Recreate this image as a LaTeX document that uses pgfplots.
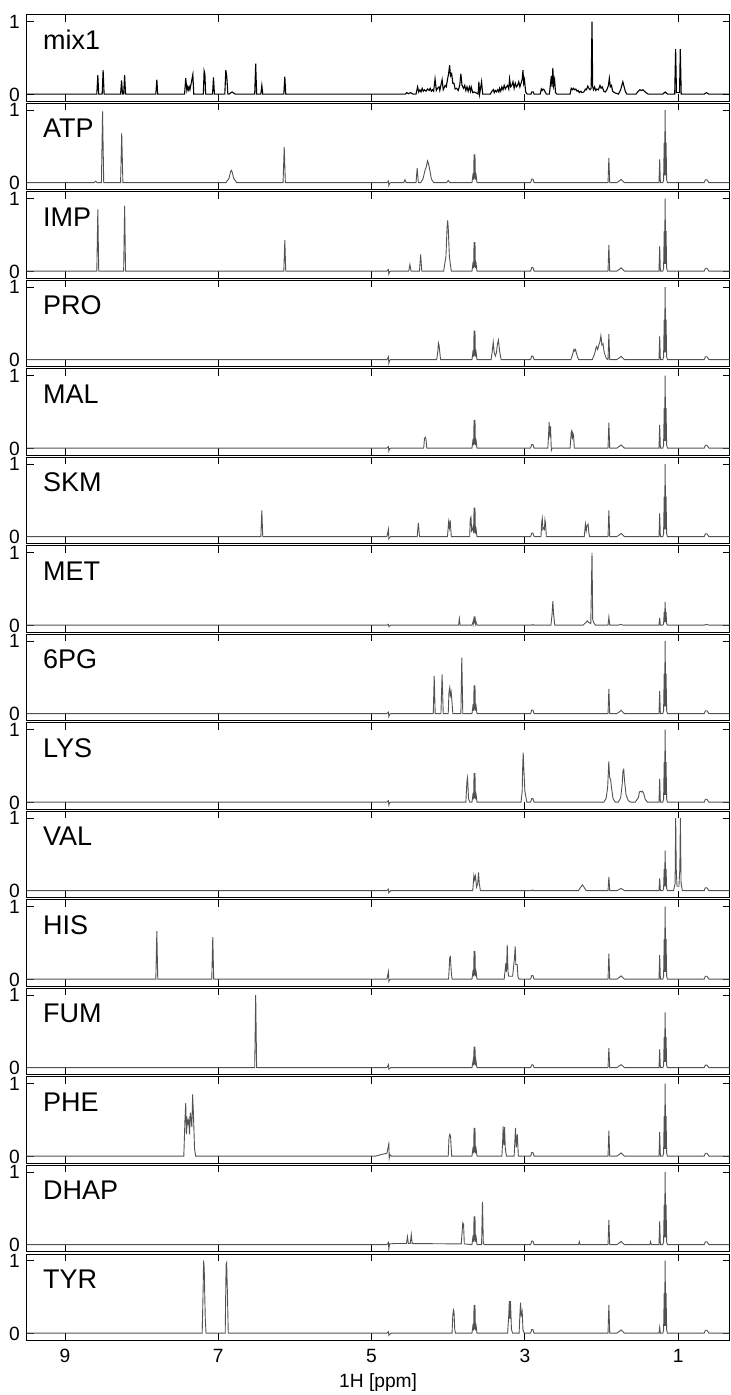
\documentclass[border=0pt]{standalone}
\usepackage{fontspec}
\setmainfont{Liberation Sans}
\usepackage{pgfplots}
\pgfplotsset{compat=1.18}
\tikzset{lab/.style={anchor=base west, inner sep=0pt, font=\fontsize{13.5}{14}\selectfont}}
\newcommand{\plab}[1]{\node[lab] at (rel axis cs:0.0228,0.606) {#1};}
\pgfplotsset{
 panel/.style={
  scale only axis, width=351.4pt, height=43.2pt, anchor=south west,
  x dir=reverse, xmin=0.33, xmax=9.5, ymin=-0.1, ymax=1.09,
  xtick={1,3,5,7,9}, ytick={0,1},
  tick align=inside, xtick pos=both, ytick pos=both, yticklabel pos=left,
  major tick length=3.5pt,
  axis line style={line width=0.5pt},
  every tick/.style={black, line width=0.5pt},
  /pgf/number format/assume math mode=true,
  ticklabel style={font=\fontsize{9.6}{10}\selectfont},
  yticklabel style={inner xsep=0pt, inner ysep=0pt, text height=6.9pt, text depth=0pt, xshift=-3.3pt},
  xticklabel style={inner ysep=0pt, yshift=-4.3pt},
  clip mode=individual,
 },
 nox/.style={xticklabels={}},
 spec/.style={color=black!68, line width=0.45pt, mark=none},
}
\begin{document}
\begin{tikzpicture}
\useasboundingbox (0,0) rectangle (365pt,697.5pt);
% ---------- mix1
\begin{axis}[panel, nox, at={(13.35pt,646.8pt)}]
\addplot[black, line width=0.55pt] coordinates {
(9.5,0) (8.585,0) (8.572,0.26) (8.56,0) (8.515,0) (8.503,0.33) (8.49,0)
(8.275,0) (8.262,0.19) (8.25,0) (8.235,0) (8.222,0.26) (8.21,0)
(7.815,0) (7.802,0.20) (7.79,0)
(7.44,0) (7.425,0.22) (7.41,0.05) (7.40,0.1) (7.39,0.06) (7.38,0.1) (7.37,0.06) (7.332,0.27) (7.32,0)
(7.195,0) (7.185,0.32) (7.175,0.28) (7.165,0)
(7.075,0) (7.063,0.23) (7.05,0)
(6.915,0) (6.902,0.33) (6.89,0.25) (6.875,0)
(6.86,0) (6.82,0.03) (6.78,0)
(6.525,0) (6.512,0.42) (6.50,0)
(6.445,0) (6.432,0.12) (6.42,0)
(6.145,0) (6.132,0.24) (6.12,0)
(4.56,0) (4.54,0.02) (4.52,0.005) (4.49,0.02) (4.46,0)
(4.42,0) (4.40,0.1) (4.385,0.03) (4.37,0.06) (4.355,0.03) (4.34,0.08) (4.325,0.04) (4.31,0.06) (4.29,0.04) (4.27,0.07) (4.25,0.05) (4.235,0.08) (4.22,0.04) (4.205,0.06) (4.19,0.04)
(4.172,0.21) (4.155,0.05) (4.14,0.08) (4.12,0.1) (4.11,0.05) (4.08,0.2) (4.065,0.06) (4.04,0.12) (4.025,0.1) (4.01,0.2) (3.995,0.28) (3.982,0.4) (3.97,0.25) (3.955,0.28) (3.94,0.15) (3.925,0.15) (3.91,0.07) (3.89,0.08) (3.87,0.05) (3.85,0.12) (3.835,0.28) (3.82,0.12) (3.80,0.08) (3.785,0.12) (3.77,0.05) (3.755,0.1) (3.74,0.04) (3.725,0.1) (3.71,0.04) (3.70,0.1) (3.68,0.02) (3.66,0.03) (3.64,0.02) (3.61,0)
(3.60,0.17) (3.59,0) (3.565,0.17) (3.55,0)
(3.45,0) (3.43,0.04) (3.41,0.06) (3.40,0.02) (3.385,0.05) (3.37,0.03) (3.355,0.06) (3.34,0.03) (3.33,0.08) (3.315,0.04) (3.30,0.1) (3.285,0.06) (3.27,0.12) (3.255,0.07) (3.24,0.1) (3.225,0.12) (3.21,0.07) (3.20,0.21) (3.185,0.1) (3.17,0.12) (3.155,0.17) (3.14,0.08) (3.125,0.15) (3.11,0.1) (3.095,0.12) (3.08,0.17) (3.065,0.1) (3.05,0.15) (3.035,0.2) (3.025,0.33) (3.015,0.15) (3.005,0.2) (2.99,0.03) (2.97,0)
(2.92,0) (2.91,0.03) (2.89,0.03) (2.88,0)
(2.80,0) (2.785,0.07) (2.775,0.05) (2.765,0.07) (2.75,0.06) (2.735,0.03) (2.72,0)
(2.68,0) (2.665,0.15) (2.655,0.25) (2.645,0.1) (2.635,0.36) (2.625,0.12) (2.612,0.2) (2.60,0.02) (2.58,0)
(2.41,0) (2.395,0.08) (2.38,0.06) (2.365,0.08) (2.35,0.06) (2.335,0.07) (2.32,0.04) (2.305,0.05) (2.29,0.02) (2.27,0.04) (2.255,0.02) (2.23,0.03) (2.21,0.07) (2.195,0.06) (2.18,0.11) (2.165,0.08) (2.15,0.06) (2.135,0.08) (2.124,1.0) (2.115,0.1) (2.105,0.06) (2.09,0.1) (2.075,0.05) (2.06,0.07) (2.04,0.06) (2.02,0.12) (2.005,0.08) (1.99,0.1) (1.97,0.04) (1.95,0.03) (1.93,0.06) (1.91,0.12) (1.898,0.22) (1.885,0.1) (1.87,0.12) (1.855,0.04) (1.83,0.02)
(1.78,0) (1.75,0.06) (1.735,0.12) (1.722,0.17) (1.71,0.12) (1.69,0.04) (1.67,0)
(1.55,0) (1.52,0.04) (1.50,0.06) (1.48,0.05) (1.46,0.06) (1.44,0.04) (1.42,0.02) (1.39,0)
(1.20,0) (1.17,0.03) (1.14,0)
(1.045,0) (1.033,0.62) (1.022,0.02) (0.982,0.02) (0.972,0.62) (0.96,0)
(0.66,0) (0.63,0.02) (0.60,0) (0.33,0)
};
\plab{mix1}
\end{axis}
% ---------- ATP
\begin{axis}[panel, nox, at={(13.35pt,602.55pt)}]
\addplot[spec] coordinates {
(9.5,0) (8.62,0) (8.60,0.02) (8.58,0) (8.525,0) (8.51,0.98) (8.495,0) (8.275,0) (8.26,0.68) (8.245,0)
(6.90,0) (6.86,0.06) (6.84,0.15) (6.83,0.17) (6.82,0.15) (6.80,0.06) (6.76,0)
(6.155,0) (6.14,0.49) (6.125,0)
(4.80,0) (4.78,0.02) (4.775,-0.04) (4.765,-0.01) (4.75,0)
(4.58,0) (4.565,0.04) (4.55,0)
(4.42,0) (4.405,0.2) (4.39,0)
(4.36,0) (4.33,0.05) (4.30,0.18) (4.285,0.22) (4.27,0.3) (4.26,0.27) (4.245,0.2) (4.22,0.05) (4.19,0)
(4.02,0) (4.0,0.03) (3.98,0)
(3.69,0) (3.675,0.13) (3.669,0.04) (3.663,0.39) (3.657,0.06) (3.651,0.39) (3.645,0.04) (3.639,0.13) (3.625,0)
(2.925,0) (2.91,0.05) (2.895,0.05) (2.88,0)
(1.915,0) (1.904,0.34) (1.893,0)
(1.80,0) (1.76,0.03) (1.745,0.045) (1.73,0.03) (1.70,0)
(1.25,0) (1.241,0.32) (1.232,0)
(1.20,0) (1.19,0.04) (1.182,0.55) (1.177,0.1) (1.170,1.0) (1.163,0.1) (1.158,0.55) (1.15,0.04) (1.14,0)
(0.66,0) (0.645,0.04) (0.625,0.04) (0.60,0) (0.33,0)
};
\plab{ATP}
\end{axis}
% ---------- IMP
\begin{axis}[panel, nox, at={(13.35pt,558.3pt)}]
\addplot[spec] coordinates {
(9.5,0) (8.585,0) (8.572,0.85) (8.56,0) (8.235,0) (8.222,0.9) (8.21,0)
(6.145,0) (6.132,0.43) (6.12,0)
(4.80,0) (4.78,0.02) (4.775,-0.04) (4.765,-0.01) (4.75,0)
(4.515,0) (4.50,0.09) (4.485,0) (4.375,0) (4.36,0.23) (4.345,0)
(4.06,0) (4.03,0.2) (4.015,0.6) (4.008,0.7) (4.0,0.6) (3.985,0.2) (3.96,0)
(3.69,0) (3.675,0.13) (3.669,0.04) (3.663,0.40) (3.657,0.06) (3.651,0.40) (3.645,0.04) (3.639,0.13) (3.625,0)
(2.925,0) (2.91,0.05) (2.895,0.05) (2.88,0)
(1.915,0) (1.904,0.36) (1.893,0)
(1.80,0) (1.76,0.03) (1.745,0.045) (1.73,0.03) (1.70,0)
(1.25,0) (1.241,0.34) (1.232,0)
(1.20,0) (1.19,0.04) (1.182,0.55) (1.177,0.1) (1.170,1.0) (1.163,0.1) (1.158,0.55) (1.15,0.04) (1.14,0)
(0.66,0) (0.645,0.04) (0.625,0.04) (0.60,0) (0.33,0)
};
\plab{IMP}
\end{axis}
% ---------- PRO
\begin{axis}[panel, nox, at={(13.35pt,514.05pt)}]
\addplot[spec] coordinates {
(9.5,0) (4.80,0) (4.78,0.04) (4.775,-0.05) (4.765,-0.01) (4.75,0)
(4.15,0) (4.135,0.12) (4.128,0.23) (4.12,0.2) (4.112,0.12) (4.10,0)
(3.69,0) (3.675,0.13) (3.669,0.04) (3.663,0.40) (3.657,0.06) (3.651,0.40) (3.645,0.04) (3.639,0.13) (3.625,0)
(3.44,0) (3.425,0.12) (3.413,0.24) (3.40,0.1) (3.385,0.05) (3.37,0.1) (3.36,0.2) (3.345,0.27) (3.33,0.12) (3.31,0)
(2.925,0) (2.91,0.05) (2.895,0.05) (2.88,0)
(2.40,0) (2.375,0.08) (2.36,0.14) (2.35,0.12) (2.34,0.14) (2.32,0.06) (2.30,0)
(2.12,0) (2.09,0.08) (2.075,0.15) (2.065,0.18) (2.05,0.14) (2.035,0.2) (2.02,0.25) (2.008,0.33) (1.995,0.2) (1.98,0.22) (1.965,0.1) (1.94,0.02) (1.92,0)
(1.915,0) (1.904,0.35) (1.893,0)
(1.80,0) (1.76,0.03) (1.745,0.045) (1.73,0.03) (1.70,0)
(1.25,0) (1.241,0.32) (1.232,0)
(1.20,0) (1.19,0.04) (1.182,0.55) (1.177,0.1) (1.170,1.0) (1.163,0.1) (1.158,0.55) (1.15,0.04) (1.14,0)
(0.66,0) (0.645,0.04) (0.625,0.04) (0.60,0) (0.33,0)
};
\plab{PRO}
\end{axis}
% ---------- MAL
\begin{axis}[panel, nox, at={(13.35pt,469.8pt)}]
\addplot[spec] coordinates {
(9.5,0) (4.80,0) (4.78,0.02) (4.775,-0.04) (4.765,-0.01) (4.75,0)
(4.32,0) (4.31,0.13) (4.30,0.15) (4.29,0.12) (4.28,0)
(3.69,0) (3.675,0.13) (3.669,0.04) (3.663,0.39) (3.657,0.06) (3.651,0.39) (3.645,0.04) (3.639,0.13) (3.625,0)
(2.925,0) (2.91,0.05) (2.895,0.05) (2.88,0)
(2.70,0) (2.69,0.2) (2.683,0.36) (2.675,0.15) (2.665,0.3) (2.655,-0.03) (2.645,0)
(2.41,0) (2.395,0.22) (2.388,0.24) (2.38,0.12) (2.372,0.2) (2.365,0.18) (2.355,0)
(1.915,0) (1.904,0.35) (1.893,0)
(1.80,0) (1.76,0.03) (1.745,0.045) (1.73,0.03) (1.70,0)
(1.25,0) (1.241,0.32) (1.232,0)
(1.20,0) (1.19,0.04) (1.182,0.55) (1.177,0.1) (1.170,1.0) (1.163,0.1) (1.158,0.55) (1.15,0.04) (1.14,0)
(0.66,0) (0.645,0.04) (0.625,0.04) (0.60,0) (0.33,0)
};
\plab{MAL}
\end{axis}
% ---------- SKM
\begin{axis}[panel, nox, at={(13.35pt,425.55pt)}]
\addplot[spec] coordinates {
(9.5,0) (6.445,0) (6.432,0.36) (6.42,0)
(4.80,0) (4.78,0.1) (4.775,-0.03) (4.765,-0.01) (4.75,0)
(4.405,0) (4.39,0.19) (4.375,0)
(4.01,0) (3.995,0.2) (3.985,0.12) (3.975,0.23) (3.96,0)
(3.72,0) (3.712,0.25) (3.703,0.27) (3.695,0.08) (3.685,0.1) (3.675,0.14) (3.669,0.05) (3.663,0.40) (3.657,0.06) (3.651,0.40) (3.645,0.04) (3.639,0.13) (3.625,0)
(2.925,0) (2.91,0.05) (2.895,0.05) (2.88,0)
(2.79,0) (2.78,0.2) (2.773,0.25) (2.765,0.1) (2.755,0.12) (2.745,0.1) (2.738,0.23) (2.73,0.18) (2.72,0)
(2.225,0) (2.21,0.17) (2.20,0.08) (2.19,0.15) (2.175,0.17) (2.165,0.05) (2.155,0)
(1.915,0) (1.904,0.36) (1.893,0)
(1.80,0) (1.76,0.03) (1.745,0.045) (1.73,0.03) (1.70,0)
(1.25,0) (1.241,0.32) (1.232,0)
(1.20,0) (1.19,0.04) (1.182,0.55) (1.177,0.1) (1.170,1.0) (1.163,0.1) (1.158,0.55) (1.15,0.04) (1.14,0)
(0.66,0) (0.645,0.04) (0.625,0.04) (0.60,0) (0.33,0)
};
\plab{SKM}
\end{axis}
% ---------- MET
\begin{axis}[panel, nox, at={(13.35pt,381.3pt)}]
\addplot[spec] coordinates {
(9.5,0) (4.80,0) (4.78,0.01) (4.775,-0.02) (4.75,0)
(3.865,0) (3.855,0.09) (3.845,0)
(3.69,0) (3.675,0.05) (3.669,0.02) (3.663,0.12) (3.657,0.03) (3.651,0.12) (3.645,0.02) (3.639,0.05) (3.625,0)
(2.91,0) (2.90,0.01) (2.89,0)
(2.66,0) (2.645,0.15) (2.635,0.33) (2.625,0.15) (2.61,0)
(2.24,0) (2.20,0.04) (2.185,0.06) (2.17,0.04) (2.14,0.02) (2.124,1.0) (2.115,0.08) (2.10,0.03) (2.08,0)
(1.915,0) (1.904,0.11) (1.893,0)
(1.78,0) (1.75,0.01) (1.72,0)
(1.25,0) (1.241,0.1) (1.232,0)
(1.20,0) (1.19,0.02) (1.182,0.18) (1.177,0.04) (1.170,0.32) (1.163,0.04) (1.158,0.18) (1.15,0.02) (1.14,0)
(0.66,0) (0.63,0.01) (0.60,0) (0.33,0)
};
\plab{MET}
\end{axis}
% ---------- 6PG
\begin{axis}[panel, nox, at={(13.35pt,337.05pt)}]
\addplot[spec] coordinates {
(9.5,0) (4.80,0) (4.78,0.02) (4.775,-0.04) (4.765,-0.01) (4.75,0)
(4.195,0) (4.183,0.52) (4.17,0)
(4.095,0) (4.08,0.54) (4.065,0)
(4.0,0) (3.99,0.3) (3.98,0.36) (3.972,0.25) (3.962,0.3) (3.95,0.15) (3.94,0)
(3.835,0) (3.823,0.77) (3.81,0)
(3.69,0) (3.675,0.13) (3.669,0.04) (3.663,0.39) (3.657,0.06) (3.651,0.39) (3.645,0.04) (3.639,0.13) (3.625,0)
(2.925,0) (2.91,0.05) (2.895,0.05) (2.88,0)
(1.915,0) (1.904,0.34) (1.893,0)
(1.80,0) (1.76,0.03) (1.745,0.045) (1.73,0.03) (1.70,0)
(1.25,0) (1.241,0.31) (1.232,0)
(1.20,0) (1.19,0.04) (1.182,0.55) (1.177,0.1) (1.170,1.0) (1.163,0.1) (1.158,0.55) (1.15,0.04) (1.14,0)
(0.66,0) (0.645,0.04) (0.625,0.04) (0.60,0) (0.33,0)
};
\plab{6PG}
\end{axis}
% ---------- LYS
\begin{axis}[panel, nox, at={(13.35pt,292.8pt)}]
\addplot[spec] coordinates {
(9.5,0) (4.80,0) (4.78,0.02) (4.775,-0.04) (4.765,-0.01) (4.75,0)
(3.77,0) (3.755,0.3) (3.748,0.34) (3.735,0.05) (3.72,0)
(3.69,0) (3.675,0.13) (3.669,0.04) (3.663,0.40) (3.657,0.06) (3.651,0.40) (3.645,0.04) (3.639,0.13) (3.625,0)
(3.05,0) (3.035,0.15) (3.028,0.5) (3.022,0.68) (3.015,0.5) (3.0,0.15) (2.975,0)
(2.925,0) (2.91,0.05) (2.895,0.05) (2.88,0)
(1.97,0) (1.94,0.05) (1.92,0.2) (1.905,0.56) (1.895,0.35) (1.88,0.3) (1.87,0.2) (1.85,0.05) (1.82,0)
(1.78,0) (1.75,0.06) (1.73,0.25) (1.72,0.43) (1.71,0.45) (1.70,0.3) (1.68,0.1) (1.65,0.02) (1.62,0)
(1.56,0) (1.52,0.06) (1.505,0.14) (1.49,0.15) (1.475,0.14) (1.465,0.15) (1.45,0.12) (1.43,0.04) (1.40,0)
(1.25,0) (1.241,0.32) (1.232,0)
(1.20,0) (1.19,0.04) (1.182,0.55) (1.177,0.1) (1.170,1.0) (1.163,0.1) (1.158,0.55) (1.15,0.04) (1.14,0)
(0.66,0) (0.645,0.04) (0.625,0.04) (0.60,0) (0.33,0)
};
\plab{LYS}
\end{axis}
% ---------- VAL
\begin{axis}[panel, nox, at={(13.35pt,248.55pt)}]
\addplot[spec] coordinates {
(9.5,0) (4.80,0) (4.78,0.02) (4.775,-0.03) (4.75,0)
(3.68,0) (3.665,0.21) (3.655,0.15) (3.645,0.2) (3.63,0.05) (3.615,0.1) (3.605,0.25) (3.595,0.1) (3.58,0)
(2.91,0) (2.90,0.01) (2.89,0)
(2.30,0) (2.27,0.05) (2.25,0.08) (2.23,0.05) (2.20,0)
(1.915,0) (1.904,0.19) (1.893,0)
(1.80,0) (1.76,0.02) (1.745,0.03) (1.73,0.02) (1.70,0)
(1.25,0) (1.241,0.17) (1.232,0)
(1.20,0) (1.19,0.03) (1.182,0.3) (1.177,0.06) (1.170,0.55) (1.163,0.06) (1.158,0.3) (1.15,0.03) (1.14,0)
(1.06,0) (1.04,0.1) (1.032,1.0) (1.025,0.3) (1.015,0.06) (0.99,0.06) (0.978,0.3) (0.971,1.0) (0.962,0.1) (0.945,0)
(0.66,0) (0.645,0.04) (0.625,0.04) (0.60,0) (0.33,0)
};
\plab{VAL}
\end{axis}
% ---------- HIS
\begin{axis}[panel, nox, at={(13.35pt,204.3pt)}]
\addplot[spec] coordinates {
(9.5,0) (7.815,0) (7.802,0.66) (7.79,0) (7.085,0) (7.072,0.58) (7.06,0)
(4.80,0) (4.78,0.1) (4.775,-0.03) (4.765,-0.01) (4.75,0)
(3.995,0) (3.98,0.3) (3.972,0.31) (3.96,0.1) (3.95,0)
(3.69,0) (3.675,0.13) (3.669,0.04) (3.663,0.39) (3.657,0.06) (3.651,0.39) (3.645,0.04) (3.639,0.13) (3.625,0)
(3.27,0) (3.248,0.22) (3.24,0.1) (3.23,0.47) (3.22,0.1) (3.21,0.04) (3.16,0.04) (3.135,0.3) (3.126,0.45) (3.118,0.2) (3.10,0.2) (3.09,0.03) (3.075,0)
(2.925,0) (2.91,0.05) (2.895,0.05) (2.88,0)
(1.915,0) (1.904,0.35) (1.893,0)
(1.80,0) (1.76,0.03) (1.745,0.045) (1.73,0.03) (1.70,0)
(1.25,0) (1.241,0.33) (1.232,0)
(1.20,0) (1.19,0.04) (1.182,0.55) (1.177,0.1) (1.170,1.0) (1.163,0.1) (1.158,0.55) (1.15,0.04) (1.14,0)
(0.66,0) (0.645,0.04) (0.625,0.04) (0.60,0) (0.33,0)
};
\plab{HIS}
\end{axis}
% ---------- FUM
\begin{axis}[panel, nox, at={(13.35pt,160.05pt)}]
\addplot[spec] coordinates {
(9.5,0) (6.525,0) (6.512,1.0) (6.50,0)
(4.80,0) (4.78,0.04) (4.775,-0.02) (4.75,0)
(3.69,0) (3.675,0.1) (3.669,0.03) (3.663,0.29) (3.657,0.05) (3.651,0.29) (3.645,0.03) (3.639,0.1) (3.625,0)
(2.925,0) (2.91,0.04) (2.895,0.04) (2.88,0)
(1.915,0) (1.904,0.27) (1.893,0)
(1.80,0) (1.76,0.03) (1.745,0.04) (1.73,0.03) (1.70,0)
(1.25,0) (1.241,0.25) (1.232,0)
(1.20,0) (1.19,0.03) (1.182,0.42) (1.177,0.08) (1.170,0.76) (1.163,0.08) (1.158,0.42) (1.15,0.03) (1.14,0)
(0.66,0) (0.645,0.035) (0.625,0.035) (0.60,0) (0.33,0)
};
\plab{FUM}
\end{axis}
% ---------- PHE
\begin{axis}[panel, nox, at={(13.35pt,115.8pt)}]
\addplot[spec] coordinates {
(9.5,0) (7.45,0) (7.435,0.5) (7.425,0.73) (7.415,0.3) (7.405,0.5) (7.395,0.45) (7.385,0.5) (7.375,0.3) (7.365,0.6) (7.345,0.4) (7.335,0.85) (7.325,0.6) (7.31,0.1) (7.295,0)
(4.95,0) (4.88,0.02) (4.80,0.04) (4.775,0.17) (4.77,-0.03) (4.76,0.02) (4.74,0)
(4.0,0) (3.99,0.25) (3.98,0.3) (3.97,0.28) (3.955,0)
(3.69,0) (3.675,0.13) (3.669,0.04) (3.663,0.39) (3.657,0.06) (3.651,0.39) (3.645,0.04) (3.639,0.13) (3.625,0)
(3.30,0) (3.29,0.2) (3.283,0.41) (3.275,0.15) (3.265,0.4) (3.255,0.1) (3.24,0)
(3.14,0) (3.122,0.39) (3.112,0.12) (3.098,0.3) (3.085,0)
(2.925,0) (2.91,0.05) (2.895,0.05) (2.88,0)
(1.915,0) (1.904,0.35) (1.893,0)
(1.80,0) (1.76,0.03) (1.745,0.045) (1.73,0.03) (1.70,0)
(1.25,0) (1.241,0.33) (1.232,0)
(1.20,0) (1.19,0.04) (1.182,0.55) (1.177,0.1) (1.170,1.0) (1.163,0.1) (1.158,0.55) (1.15,0.04) (1.14,0)
(0.66,0) (0.645,0.04) (0.625,0.04) (0.60,0) (0.33,0)
};
\plab{PHE}
\end{axis}
% ---------- DHAP
\begin{axis}[panel, nox, at={(13.35pt,71.55pt)}]
\addplot[spec] coordinates {
(9.5,0) (4.80,0) (4.78,0.03) (4.775,-0.06) (4.765,0.01) (4.70,0.015) (4.545,0.015) (4.532,0.11) (4.52,0.015) (4.495,0.015) (4.482,0.14) (4.47,0.015)
(3.83,0.01) (3.81,0.3) (3.80,0.28) (3.79,0.01)
(3.69,0) (3.675,0.13) (3.669,0.04) (3.663,0.39) (3.657,0.06) (3.651,0.39) (3.645,0.04) (3.639,0.13) (3.625,0)
(3.565,0) (3.553,0.59) (3.542,0.02) (3.53,0)
(2.925,0) (2.91,0.05) (2.895,0.05) (2.88,0)
(2.30,0) (2.29,0.04) (2.28,0)
(1.915,0) (1.904,0.34) (1.893,0)
(1.80,0) (1.76,0.03) (1.745,0.045) (1.73,0.03) (1.70,0)
(1.37,0) (1.36,0.04) (1.35,0)
(1.25,0) (1.241,0.32) (1.232,0)
(1.20,0) (1.19,0.04) (1.182,0.55) (1.177,0.1) (1.170,1.0) (1.163,0.1) (1.158,0.55) (1.15,0.04) (1.14,0)
(0.66,0) (0.645,0.04) (0.625,0.04) (0.60,0) (0.33,0)
};
\plab{DHAP}
\end{axis}
% ---------- TYR
\begin{axis}[panel, at={(13.35pt,27.3pt)}, xlabel={1H [ppm]},
  xlabel style={font=\fontsize{9.6}{10}\selectfont, at={(axis description cs:0.5,0)}, anchor=north, inner sep=0pt, yshift=-16.5pt}]
\addplot[spec] coordinates {
(9.5,0) (7.21,0) (7.198,0.6) (7.192,1.0) (7.184,0.9) (7.17,0.2) (7.16,0)
(6.91,0) (6.898,0.95) (6.891,0.97) (6.88,0.5) (6.87,0)
(4.80,0) (4.78,0.02) (4.775,-0.03) (4.75,0)
(3.95,0) (3.94,0.25) (3.932,0.32) (3.925,0.3) (3.915,0.05) (3.905,0)
(3.69,0) (3.675,0.13) (3.669,0.04) (3.663,0.39) (3.657,0.06) (3.651,0.39) (3.645,0.04) (3.639,0.13) (3.625,0)
(3.225,0) (3.21,0.25) (3.203,0.44) (3.195,0.2) (3.188,0.44) (3.175,0.05) (3.16,0)
(3.075,0) (3.063,0.3) (3.056,0.42) (3.048,0.25) (3.035,0.3) (3.025,0.05) (3.01,0)
(2.925,0) (2.91,0.05) (2.895,0.05) (2.88,0)
(1.915,0) (1.904,0.39) (1.893,0)
(1.80,0) (1.76,0.03) (1.745,0.045) (1.73,0.03) (1.70,0)
(1.25,0) (1.241,0.08) (1.232,0)
(1.20,0) (1.19,0.04) (1.182,0.55) (1.177,0.1) (1.170,1.0) (1.163,0.1) (1.158,0.55) (1.15,0.04) (1.14,0)
(0.66,0) (0.645,0.04) (0.625,0.04) (0.60,0) (0.33,0)
};
\plab{TYR}
\end{axis}
\end{tikzpicture}
\end{document}
